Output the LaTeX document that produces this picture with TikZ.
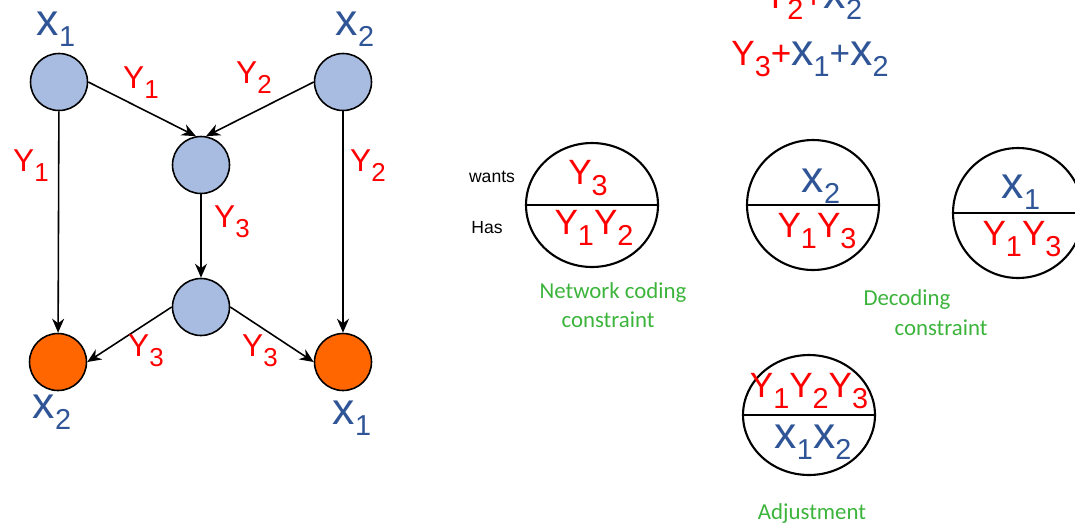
\documentclass[tikz,border=0pt]{standalone}
\usepackage{fontspec}
\setmainfont{Liberation Sans}
\newfontfamily\calibri{Carlito}
\usetikzlibrary{positioning,arrows.meta,calc,shapes.geometric}
\definecolor{xblue}{RGB}{47,85,151}
\definecolor{yred}{RGB}{255,0,0}
\definecolor{cgreen}{RGB}{60,180,60}
\definecolor{nodeblue}{RGB}{167,188,224}
\definecolor{sinkorange}{RGB}{255,102,0}
\newcommand{\subi}[1]{\raisebox{-0.32em}{\scalebox{0.82}{#1}}}
\newcommand{\yv}[1]{{\color{yred}Y\subi{#1}}}
\newcommand{\xv}[1]{{\color{xblue}\scalebox{1.27}{x}\subi{#1}}}

\begin{document}
\begin{tikzpicture}[
  x=0.02cm, y=-0.02cm,
  vtx/.style={circle, draw, line width=0.9pt, fill=nodeblue, minimum size=1.14cm, inner sep=0pt},
  dst/.style={vtx, fill=sinkorange},
  lab/.style={font=\fontsize{18}{21}\selectfont, inner sep=0pt},
  var/.style={font=\fontsize{20}{24}\selectfont, inner sep=0pt},
  cell/.style={ellipse, draw, line width=1.2pt, minimum width=2.64cm, minimum height=2.52cm, inner sep=0pt},
  ctext/.style={font=\fontsize{20}{24}\selectfont, inner sep=0pt},
  note/.style={font=\calibri\fontsize{13}{15}\selectfont, text=cgreen, inner sep=0pt},
  tag/.style={font=\fontsize{10}{12}\selectfont, inner sep=0pt},
  arr/.style={-{Stealth[length=2.8mm,width=2.4mm]}, line width=0.9pt},
]
\useasboundingbox (0,0) rectangle (1075,525);
% network
\node[vtx] (a) at (59,82) {};
\node[vtx] (b) at (343,82) {};
\node[vtx] (c) at (201,165) {};
\node[vtx] (d) at (201,307) {};
\node[dst] (e) at (58,362) {};
\node[dst] (f) at (343,362) {};
\draw[arr] (a) -- (e);
\draw[arr] (b) -- (f);
\draw[arr] (c) -- (d);
\draw[arr] (a.east) -- (c.100);
\draw[arr] (b.west) -- (c.80);
\draw[arr] (d.west) -- (e.east);
\draw[arr] (d.east) -- (f.west);
\node[var] (xa) at (56,29) {\xv{1}};
\node[var] (xb) at (355,29) {\xv{2}};
\node[var] (xe) at (52,412) {\xv{2}};
\node[var] (xf) at (352,418) {\xv{1}};
\node[lab] (yac) at (141,83) {\yv{1}};
\node[lab] (ybc) at (254,78) {\yv{2}};
\node[lab] (yae) at (31,166) {\yv{1}};
\node[lab] (ybf) at (368,166) {\yv{2}};
\node[lab] (ycd) at (232,222) {\yv{3}};
\node[lab] (yde) at (146,351) {\yv{3}};
\node[lab] (ydf) at (260,351) {\yv{3}};
% sums
\node[var] (sum1) at (813,2) {\yv{2}{\color{yred}+}\xv{2}};
\node[var] (sum2) at (810,59) {\yv{3}{\color{yred}+}\xv{1}{\color{xblue}+}\xv{2}};
% wants / has cells
\node[cell, minimum height=2.48cm] (nc) at (592,205) {};
\node[cell, minimum height=2.6cm] (dc1) at (813,205) {};
\node[cell, minimum width=2.6cm, minimum height=2.6cm] (dc2) at (1018,213) {};
\node[cell, minimum height=2.4cm] (adj) at (809,415) {};
\foreach \n in {nc,dc1,dc2,adj} \draw[line width=1.2pt] (\n.west) -- (\n.east);
\node[ctext] (nc-w) at ($(nc)+(-4,-27)$) {\yv{3}};
\node[ctext] (nc-h) at ($(nc)+(2,23)$) {\yv{1}\yv{2}};
\node[ctext] (dc1-w) at ($(dc1)+(8,-19)$) {\xv{2}};
\node[ctext] (dc1-h) at ($(dc1)+(4,26)$) {\yv{1}\yv{3}};
\node[ctext] (dc2-w) at ($(dc2)+(3,-21)$) {\xv{1}};
\node[ctext] (dc2-h) at ($(dc2)+(4,26)$) {\yv{1}\yv{3}};
\node[ctext] (adj-w) at ($(adj)+(0,-24)$) {\yv{1}\yv{2}\yv{3}};
\node[ctext] (adj-h) at ($(adj)+(4,27)$) {\xv{1}\xv{2}};
\node[tag] (wants) at (492,177) {wants};
\node[tag] (has) at (487,228) {Has};
% notes
\node[note] (nc-n1) at (613,293) {Network coding};
\node[note] (nc-n2) at (608,320) {constraint};
\node[note] (dc-n1) at (907,300) {Decoding};
\node[note] (dc-n2) at (941,328) {constraint};
\node[note] (adj-n) at (812,514) {Adjustment};
\end{tikzpicture}
\end{document}
